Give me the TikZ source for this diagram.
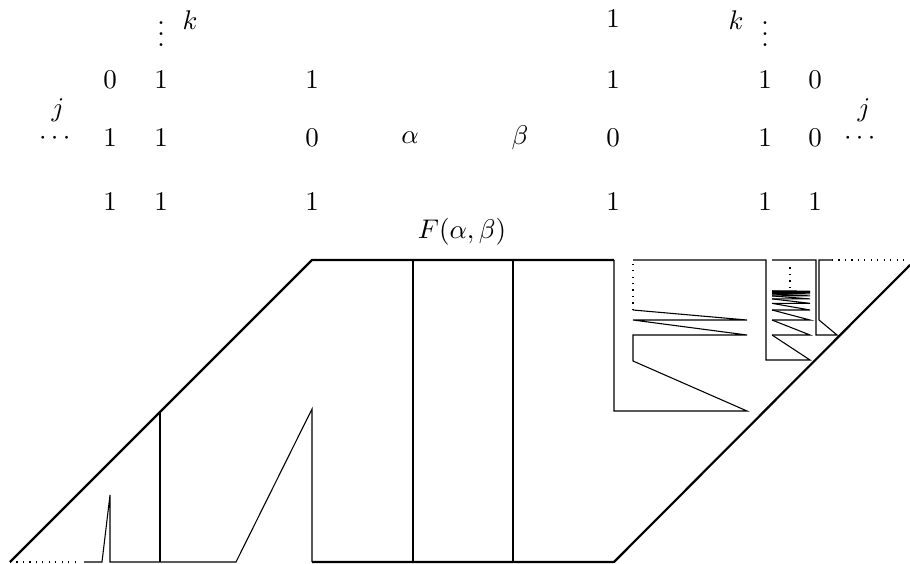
\documentclass[tikz,border=0pt]{standalone}
\usepackage{amsmath}
\usepackage{amssymb}
\begin{document}
\begin{tikzpicture}[
    x=0.3704pt, y=-0.3704pt,
    thickline/.style={line width=0.8pt},
    thinline/.style={line width=0.4pt},
    dotline/.style={line width=0.4pt, dotted},
    lbl/.style={inner sep=0pt},
]
    \useasboundingbox (0,0) rectangle (910,563);

    % Left labels
    \node [lbl] (vd_l) at (161,26) {$\vdots$};
    \node [lbl] (k_l) at (190,20) {$k$};
    \node [lbl] (a1) at (110,80) {$0$};
    \node [lbl] (b1) at (161,80) {$1$};
    \node [lbl] (c1) at (312,80) {$1$};
    \node [lbl] (j_l) at (58,110) {$j$};
    \node [lbl] (dots_l) at (57,138) {$\cdots$};
    \node [lbl] (a2) at (110,138) {$1$};
    \node [lbl] (b2) at (161,138) {$1$};
    \node [lbl] (c2) at (312,138) {$0$};
    \node [lbl] (a3) at (110,202) {$1$};
    \node [lbl] (b3) at (161,202) {$1$};
    \node [lbl] (c3) at (312,202) {$1$};

    % Middle labels
    \node [lbl] (alpha) at (410,138) {$\alpha$};
    \node [lbl] (beta) at (520,138) {$\beta$};
    \node [lbl] (f_ab) at (462,232) {$F(\alpha,\beta)$};

    % Right labels
    \node [lbl] (d0) at (613,19) {$1$};
    \node [lbl] (k_r) at (736,20) {$k$};
    \node [lbl] (vd_r) at (765,26) {$\vdots$};
    \node [lbl] (d1) at (613,80) {$1$};
    \node [lbl] (e1) at (765,80) {$1$};
    \node [lbl] (f1) at (815,80) {$0$};
    \node [lbl] (j_r) at (864,110) {$j$};
    \node [lbl] (d2) at (613,138) {$0$};
    \node [lbl] (e2) at (765,138) {$1$};
    \node [lbl] (f2) at (815,138) {$0$};
    \node [lbl] (dots_r) at (862,138) {$\cdots$};
    \node [lbl] (d3) at (613,202) {$1$};
    \node [lbl] (e3) at (765,202) {$1$};
    \node [lbl] (f3) at (815,202) {$1$};

    % Outer frame
    \draw [thickline] (10,562) -- (312,260) -- (614,260);
    \draw [thickline] (312,562) -- (614,562) -- (910,265);
    \draw [thickline] (413,260) -- (413,562);
    \draw [thickline] (513,260) -- (513,562);

    % Left part
    \draw [dotline] (10,562) -- (80,562);
    \draw [thinline] (84,562) -- (102,562) -- (110,495) -- (110,562) -- (236,562) -- (312,409) -- (312,562);
    \draw [thinline] (160,562) -- (160,412);

    % Right part
    \draw [thinline] (614,260) -- (614,411) -- (747,411) -- (633,361) -- (633,335) -- (747,335) -- (633,320) -- (747,320) -- (633,310);
    \draw [dotline] (633,310) -- (633,262);
    \draw [thinline] (633,260) -- (766,260) -- (766,360) -- (810,360) -- (772,335);
    \foreach \n in {0,...,9}
        \draw [thinline] (772,{290+45*(2/3)^\n}) -- (810,{290+45*(2/3)^\n}) -- (772,{290+45*(2/3)^(\n+1)});
    \draw [dotline] (790,288) -- (790,263);
    \draw [thinline] (772,260) -- (816,260) -- (816,335) -- (837,335) -- (819,320) -- (819,260) -- (832,260);
    \draw [dotline] (832,260) -- (910,260);

\end{tikzpicture}
\end{document}
